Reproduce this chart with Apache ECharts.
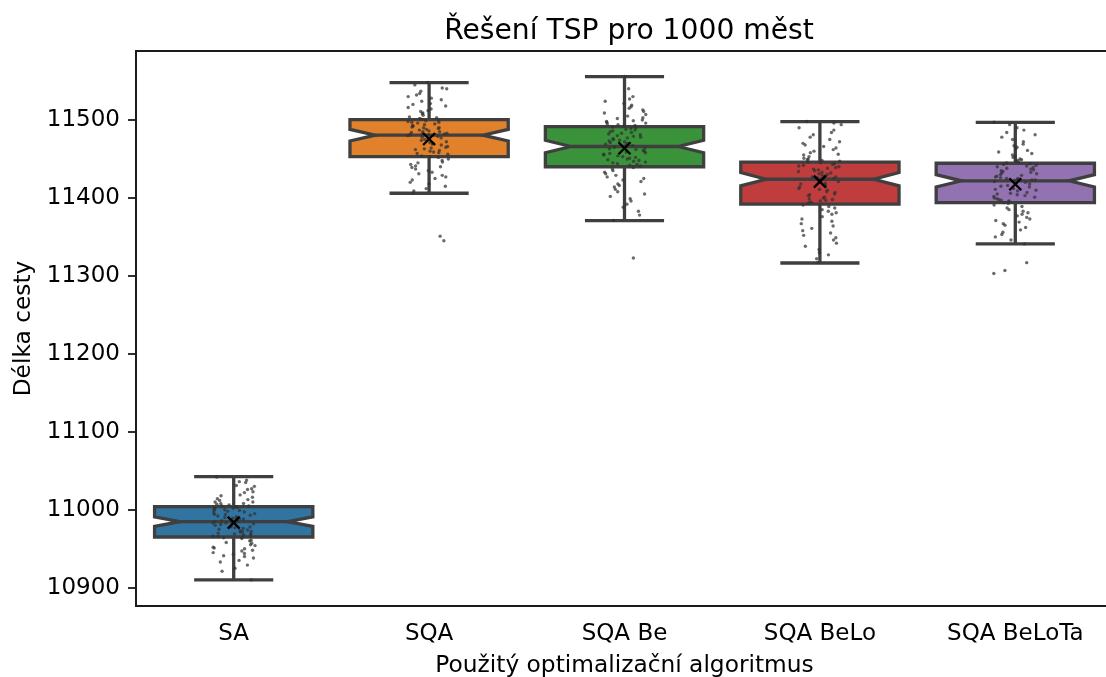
<!DOCTYPE html>
<html><head><meta charset="utf-8">
<script src="https://cdn.jsdelivr.net/npm/echarts@6/dist/echarts.min.js"></script>
<style>html,body{margin:0;padding:0;background:#fff}#c{width:1106px;height:677px}</style>
</head><body><div id="c"></div>
<script>
// ---- data ----
const categories = ['SA', 'SQA', 'SQA Be', 'SQA BeLo', 'SQA BeLoTa'];
const whiskerLow = [10910, 11406, 11371, 11316.5, 11341];
const q1 = [10965, 11453, 11440, 11392, 11394];
const median = [10984.7, 11480.5, 11466, 11424, 11422];
const q3 = [11004, 11500.5, 11491.5, 11446, 11444.5];
const whiskerHigh = [11042.4, 11548, 11555.6, 11498, 11497];
const notchHalf = [6, 7.4, 8, 8.5, 7.9];
const means = [10983.4, 11475.6, 11463.7, 11421, 11417.5];
const yTicks = [10900, 11000, 11100, 11200, 11300, 11400, 11500];

const pointsSA = [11042, 11038, 11036, 11035, 11031, 11030, 11027, 11026, 11023, 11022, 11019, 11018, 11016, 11014, 11013, 11012, 11010, 11010, 11008, 11008, 11007, 11006, 11005, 11005, 11004,
  11003, 11002, 11002, 11001, 11000, 10999, 10999, 10998, 10997, 10996, 10995, 10994, 10994, 10993, 10992, 10991, 10990, 10989, 10989, 10988, 10988, 10987, 10986, 10985, 10985,
  10984, 10983, 10983, 10982, 10981, 10980, 10979, 10978, 10978, 10977, 10976, 10975, 10974, 10973, 10972, 10972, 10971, 10970, 10969, 10969, 10968, 10967, 10966, 10966, 10965,
  10964, 10963, 10961, 10960, 10958, 10957, 10955, 10954, 10952, 10951, 10950, 10948, 10947, 10945, 10944, 10943, 10941, 10940, 10938, 10935, 10933, 10929, 10925, 10921, 10910];
const pointsSQA = [11548, 11545, 11541, 11540, 11537, 11534, 11532, 11530, 11528, 11526, 11524, 11521, 11520, 11518, 11516, 11514, 11512, 11511, 11509, 11508, 11506, 11504, 11503, 11502, 11501,
  11500, 11499, 11498, 11497, 11497, 11496, 11495, 11494, 11493, 11492, 11491, 11490, 11490, 11489, 11488, 11487, 11486, 11485, 11485, 11484, 11483, 11482, 11482, 11481, 11481,
  11480, 11479, 11478, 11477, 11476, 11475, 11474, 11472, 11471, 11470, 11469, 11468, 11466, 11465, 11464, 11463, 11462, 11461, 11460, 11459, 11458, 11457, 11456, 11454, 11453,
  11452, 11450, 11448, 11446, 11445, 11443, 11441, 11440, 11439, 11437, 11435, 11433, 11431, 11429, 11427, 11425, 11423, 11420, 11418, 11415, 11412, 11409, 11406, 11351, 11345];
const pointsSQABe = [11556, 11540, 11530, 11527, 11524, 11521, 11519, 11517, 11515, 11513, 11511, 11509, 11507, 11505, 11503, 11502, 11500, 11499, 11498, 11497, 11496, 11495, 11494, 11493, 11492,
  11491, 11490, 11489, 11488, 11487, 11486, 11485, 11484, 11483, 11482, 11481, 11480, 11479, 11478, 11477, 11476, 11475, 11474, 11473, 11472, 11471, 11470, 11469, 11468, 11467,
  11465, 11464, 11463, 11462, 11461, 11460, 11459, 11458, 11457, 11456, 11455, 11454, 11453, 11452, 11451, 11450, 11449, 11448, 11447, 11446, 11445, 11444, 11443, 11442, 11441,
  11439, 11437, 11435, 11433, 11431, 11429, 11427, 11425, 11423, 11421, 11418, 11416, 11414, 11411, 11408, 11405, 11402, 11399, 11396, 11392, 11388, 11383, 11378, 11371, 11323];
const pointsSQABeLo = [11498, 11496, 11494, 11490, 11487, 11484, 11481, 11478, 11475, 11472, 11470, 11468, 11466, 11464, 11462, 11460, 11458, 11456, 11455, 11453, 11451, 11450, 11449, 11448, 11447,
  11446, 11445, 11444, 11443, 11442, 11441, 11440, 11439, 11438, 11437, 11436, 11435, 11434, 11433, 11432, 11431, 11430, 11429, 11428, 11427, 11427, 11426, 11425, 11425, 11424,
  11423, 11422, 11421, 11419, 11418, 11417, 11415, 11414, 11412, 11411, 11410, 11408, 11407, 11405, 11404, 11403, 11401, 11400, 11399, 11398, 11397, 11396, 11395, 11394, 11393,
  11391, 11389, 11387, 11385, 11383, 11381, 11379, 11376, 11373, 11370, 11367, 11364, 11361, 11358, 11355, 11352, 11349, 11346, 11342, 11338, 11334, 11330, 11327, 11322, 11317];
const pointsSQABeLoTa = [11497, 11494, 11490, 11487, 11484, 11481, 11478, 11475, 11472, 11469, 11467, 11465, 11463, 11461, 11459, 11457, 11455, 11453, 11452, 11450, 11449, 11448, 11447, 11446, 11445,
  11444, 11443, 11442, 11441, 11440, 11439, 11438, 11437, 11436, 11435, 11434, 11433, 11432, 11431, 11430, 11429, 11428, 11427, 11426, 11425, 11425, 11424, 11423, 11423, 11422,
  11421, 11420, 11419, 11418, 11416, 11415, 11414, 11412, 11411, 11410, 11409, 11407, 11406, 11405, 11404, 11403, 11402, 11401, 11400, 11399, 11398, 11397, 11396, 11395, 11394,
  11393, 11391, 11389, 11387, 11385, 11383, 11381, 11379, 11377, 11375, 11373, 11371, 11369, 11367, 11365, 11362, 11359, 11356, 11353, 11350, 11346, 11341, 11317, 11307, 11303];
const pointSets = [pointsSA, pointsSQA, pointsSQABe, pointsSQABeLo, pointsSQABeLoTa];

// ---- styles ----
const boxColors = ['#3274a1', '#e1812c', '#3a923a', '#c03d3e', '#9372b2'];
const edge = '#3f3f3f';
const FONT = 'DejaVu Sans';

const boxData = categories.map((c, i) => [i, whiskerLow[i], q1[i], median[i], q3[i], whiskerHigh[i], notchHalf[i]]);
const meanData = categories.map((c, i) => [i, means[i]]);
// deterministic hash-based strip jitter within about +-0.11 of a category band (layout only)
const hash = k => { const s = Math.sin(k * 127.1 + 311.7) * 43758.5453; return s - Math.floor(s); };
const jit = k => (hash(k) - 0.5) * 0.22;
const stripData = [];
pointSets.forEach((arr, i) => arr.forEach((v, k) => stripData.push([i + jit(k + 1 + i * 131), v])));

function renderBox(params, api) {
  const x = api.value(0);
  const band = api.size([1, 0])[0];
  const bw = band * 0.81, half = bw / 2, pinch = bw * 0.16, capHalf = bw * 0.25;
  const cx = api.coord([x, api.value(3)])[0];
  const Y = v => api.coord([x, v])[1];
  const yWl = Y(api.value(1)), yQ1 = Y(api.value(2)), yMed = Y(api.value(3)),
        yQ3 = Y(api.value(4)), yWh = Y(api.value(5));
  const n = api.value(6);
  const yNh = Y(api.value(3) + n), yNl = Y(api.value(3) - n);
  const xL = cx - half, xR = cx + half;
  const ls = { stroke: edge, lineWidth: 3.3, fill: null };
  return {
    type: 'group',
    children: [
      { type: 'line', shape: { x1: cx, y1: yQ1, x2: cx, y2: yWl }, style: ls },
      { type: 'line', shape: { x1: cx, y1: yQ3, x2: cx, y2: yWh }, style: ls },
      { type: 'line', shape: { x1: cx - capHalf, y1: yWl, x2: cx + capHalf, y2: yWl }, style: ls },
      { type: 'line', shape: { x1: cx - capHalf, y1: yWh, x2: cx + capHalf, y2: yWh }, style: ls },
      { type: 'polygon', shape: { points: [
          [xL, yQ3], [xR, yQ3], [xR, yNh], [xR - pinch, yMed], [xR, yNl], [xR, yQ1],
          [xL, yQ1], [xL, yNl], [xL + pinch, yMed], [xL, yNh]] },
        style: { fill: boxColors[params.dataIndex], stroke: edge, lineWidth: 3.3, lineJoin: 'miter' } },
      { type: 'line', shape: { x1: xL + pinch, y1: yMed, x2: xR - pinch, y2: yMed }, style: ls }
    ]
  };
}
function renderMean(params, api) {
  const p = api.coord([api.value(0), api.value(1)]);
  const s = 6;
  const st = { stroke: '#000', lineWidth: 2.3 };
  return { type: 'group', children: [
    { type: 'line', shape: { x1: p[0] - s, y1: p[1] - s, x2: p[0] + s, y2: p[1] + s }, style: st },
    { type: 'line', shape: { x1: p[0] - s, y1: p[1] + s, x2: p[0] + s, y2: p[1] - s }, style: st }
  ]};
}

const chart = echarts.init(document.getElementById('c'), null, { renderer: 'canvas' });
chart.setOption({
  animation: false,
  backgroundColor: '#fff',
  textStyle: { fontFamily: FONT },
  title: {
    text: 'Řešení TSP pro 1000 měst', left: 624, top: 13, textAlign: 'center',
    textStyle: { fontFamily: FONT, fontSize: 28.2, fontWeight: 'normal', color: '#000' }
  },
  grid: { left: 136, top: 51, width: 977, height: 555, outerBoundsMode: 'none', containLabel: false,
    show: true, borderColor: '#1a1a1a', borderWidth: 1.8, backgroundColor: 'transparent' },
  xAxis: [
    { type: 'category', data: categories, boundaryGap: true,
      name: 'Použitý optimalizační algoritmus', nameLocation: 'middle', nameGap: 48,
      nameTextStyle: { fontFamily: FONT, fontSize: 23.3, color: '#000' },
      axisLine: { lineStyle: { color: '#1a1a1a', width: 1.8 } },
      axisTick: { alignWithLabel: true, length: 8, lineStyle: { color: '#1a1a1a', width: 1.8 } },
      axisLabel: { fontFamily: FONT, fontSize: 23, color: '#000', margin: 17 },
      splitLine: { show: false } },
    { type: 'value', min: -0.5, max: 4.5, show: false }
  ],
  yAxis: {
    type: 'value', min: 10876.5, max: 11588.5,
    name: 'Délka cesty', nameLocation: 'middle', nameGap: 96,
    nameTextStyle: { fontFamily: FONT, fontSize: 23.3, color: '#000' },
    axisLine: { show: true, onZero: false, lineStyle: { color: '#1a1a1a', width: 1.8 } },
    axisTick: { show: true, length: 8, customValues: yTicks, lineStyle: { color: '#1a1a1a', width: 1.8 } },
    axisLabel: { fontFamily: FONT, fontSize: 23, color: '#000', margin: 16, customValues: yTicks, formatter: v => String(v) },
    splitLine: { show: false }
  },
  series: [
    { type: 'custom', xAxisIndex: 1, renderItem: renderBox, data: boxData, encode: { x: 0, y: [1, 2, 3, 4, 5] }, z: 2 },
    { type: 'scatter', xAxisIndex: 1, data: stripData, symbolSize: 3.4, itemStyle: { color: 'rgba(50,50,50,0.9)' }, z: 3, silent: true },
    { type: 'custom', xAxisIndex: 1, renderItem: renderMean, data: meanData, encode: { x: 0, y: 1 }, z: 4 }
  ]
});
</script></body></html>
